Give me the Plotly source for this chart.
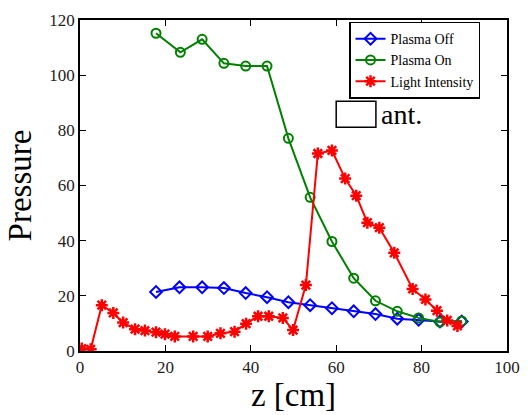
import plotly.graph_objects as go

z_off = [17.8, 23.3, 28.6, 33.7, 38.8, 43.8, 48.8, 53.9, 59.0, 64.1, 69.2, 74.3, 79.3, 84.3, 89.4]
p_off = [21.4, 23.1, 23.1, 22.8, 21.0, 19.5, 17.7, 16.6, 15.5, 14.4, 13.4, 11.7, 11.3, 10.7, 10.7]

z_on = [17.8, 23.5, 28.6, 33.7, 38.8, 43.8, 48.8, 53.9, 59.0, 64.1, 69.2, 74.3, 79.3, 84.3, 89.4]
p_on = [115.2, 108.3, 113.0, 104.3, 103.3, 103.3, 77.1, 55.7, 39.7, 26.4, 18.2, 14.4, 12.0, 10.5, 10.9]

z_light = [0.4, 2.5, 5.1, 7.8, 10.1, 12.9, 15.2, 17.8, 19.9, 22.2, 26.5, 29.9, 32.9, 36.2, 38.9,
           41.7, 44.2, 47.5, 49.9, 52.9, 55.7, 59.0, 62.1, 64.7, 67.3, 70.1, 73.6, 77.9, 80.9,
           83.6, 86.0, 88.4]
i_light = [0.9, 0.6, 16.6, 13.8, 10.3, 7.9, 7.4, 6.8, 6.1, 5.3, 5.3, 5.3, 6.4, 7.0, 9.9,
           12.6, 12.6, 12.0, 7.6, 23.9, 71.6, 72.7, 62.5, 56.3, 46.5, 44.7, 35.6, 22.5, 18.7,
           14.6, 11.1, 9.1]

x_ticks = [0, 20, 40, 60, 80, 100]
y_ticks = [0, 20, 40, 60, 80, 100, 120]

SERIF = "'Liberation Serif', 'DejaVu Serif', serif"

fig = go.Figure()
fig.add_trace(go.Scatter(x=z_off, y=p_off, mode="lines+markers", name="Plasma Off",
                         line=dict(color="#0000ff", width=2),
                         marker=dict(symbol="diamond-open", size=9, color="#0000ff",
                                     line=dict(width=2, color="#0000ff"))))
fig.add_trace(go.Scatter(x=z_on, y=p_on, mode="lines+markers", name="Plasma On",
                         line=dict(color="#008000", width=2),
                         marker=dict(symbol="circle-open", size=9, color="#008000",
                                     line=dict(width=2, color="#008000"))))
fig.add_trace(go.Scatter(x=z_light, y=i_light, mode="lines+markers", name="Light Intensity",
                         line=dict(color="#ff0000", width=2),
                         marker=dict(symbol="asterisk-open", size=10, color="#ff0000",
                                     line=dict(width=2.5, color="#ff0000"))))

fig.add_shape(type="rect", x0=60.0, x1=69.3, y0=81.1, y1=90.5, xref="x", yref="y",
              line=dict(color="black", width=1.5), fillcolor="rgba(0,0,0,0)")
fig.add_annotation(x=70.0, y=85.8, xref="x", yref="y", text="ant.", showarrow=False,
                   xanchor="left", yanchor="middle", font=dict(family=SERIF, size=28, color="black"))

axis_common = dict(showgrid=False, zeroline=False, showline=True, linecolor="black", linewidth=1.5,
                   mirror="ticks", ticks="inside", ticklen=6, tickwidth=1, tickcolor="black",
                   tickfont=dict(family=SERIF, size=17, color="#222"))

fig.update_xaxes(range=[0, 100], tickvals=x_ticks, ticktext=[str(v) for v in x_ticks],
                 title=dict(text="z [cm]", font=dict(family=SERIF, size=33, color="black"), standoff=4),
                 **axis_common)
fig.update_yaxes(range=[0, 120], tickvals=y_ticks, ticktext=[str(v) for v in y_ticks],
                 title=dict(text="Pressure", font=dict(family=SERIF, size=33, color="black"), standoff=8),
                 **axis_common)

fig.update_layout(
    width=531, height=415,
    margin=dict(l=80, r=18, t=11, b=62),
    plot_bgcolor="white", paper_bgcolor="white",
    font=dict(family=SERIF),
    legend=dict(x=0.63, y=0.995, xanchor="left", yanchor="top",
                bordercolor="black", borderwidth=1.5, bgcolor="white",
                font=dict(family=SERIF, size=14, color="black"),
                tracegroupgap=0, itemwidth=30),
    showlegend=True,
)

fig.write_html("out.html")
